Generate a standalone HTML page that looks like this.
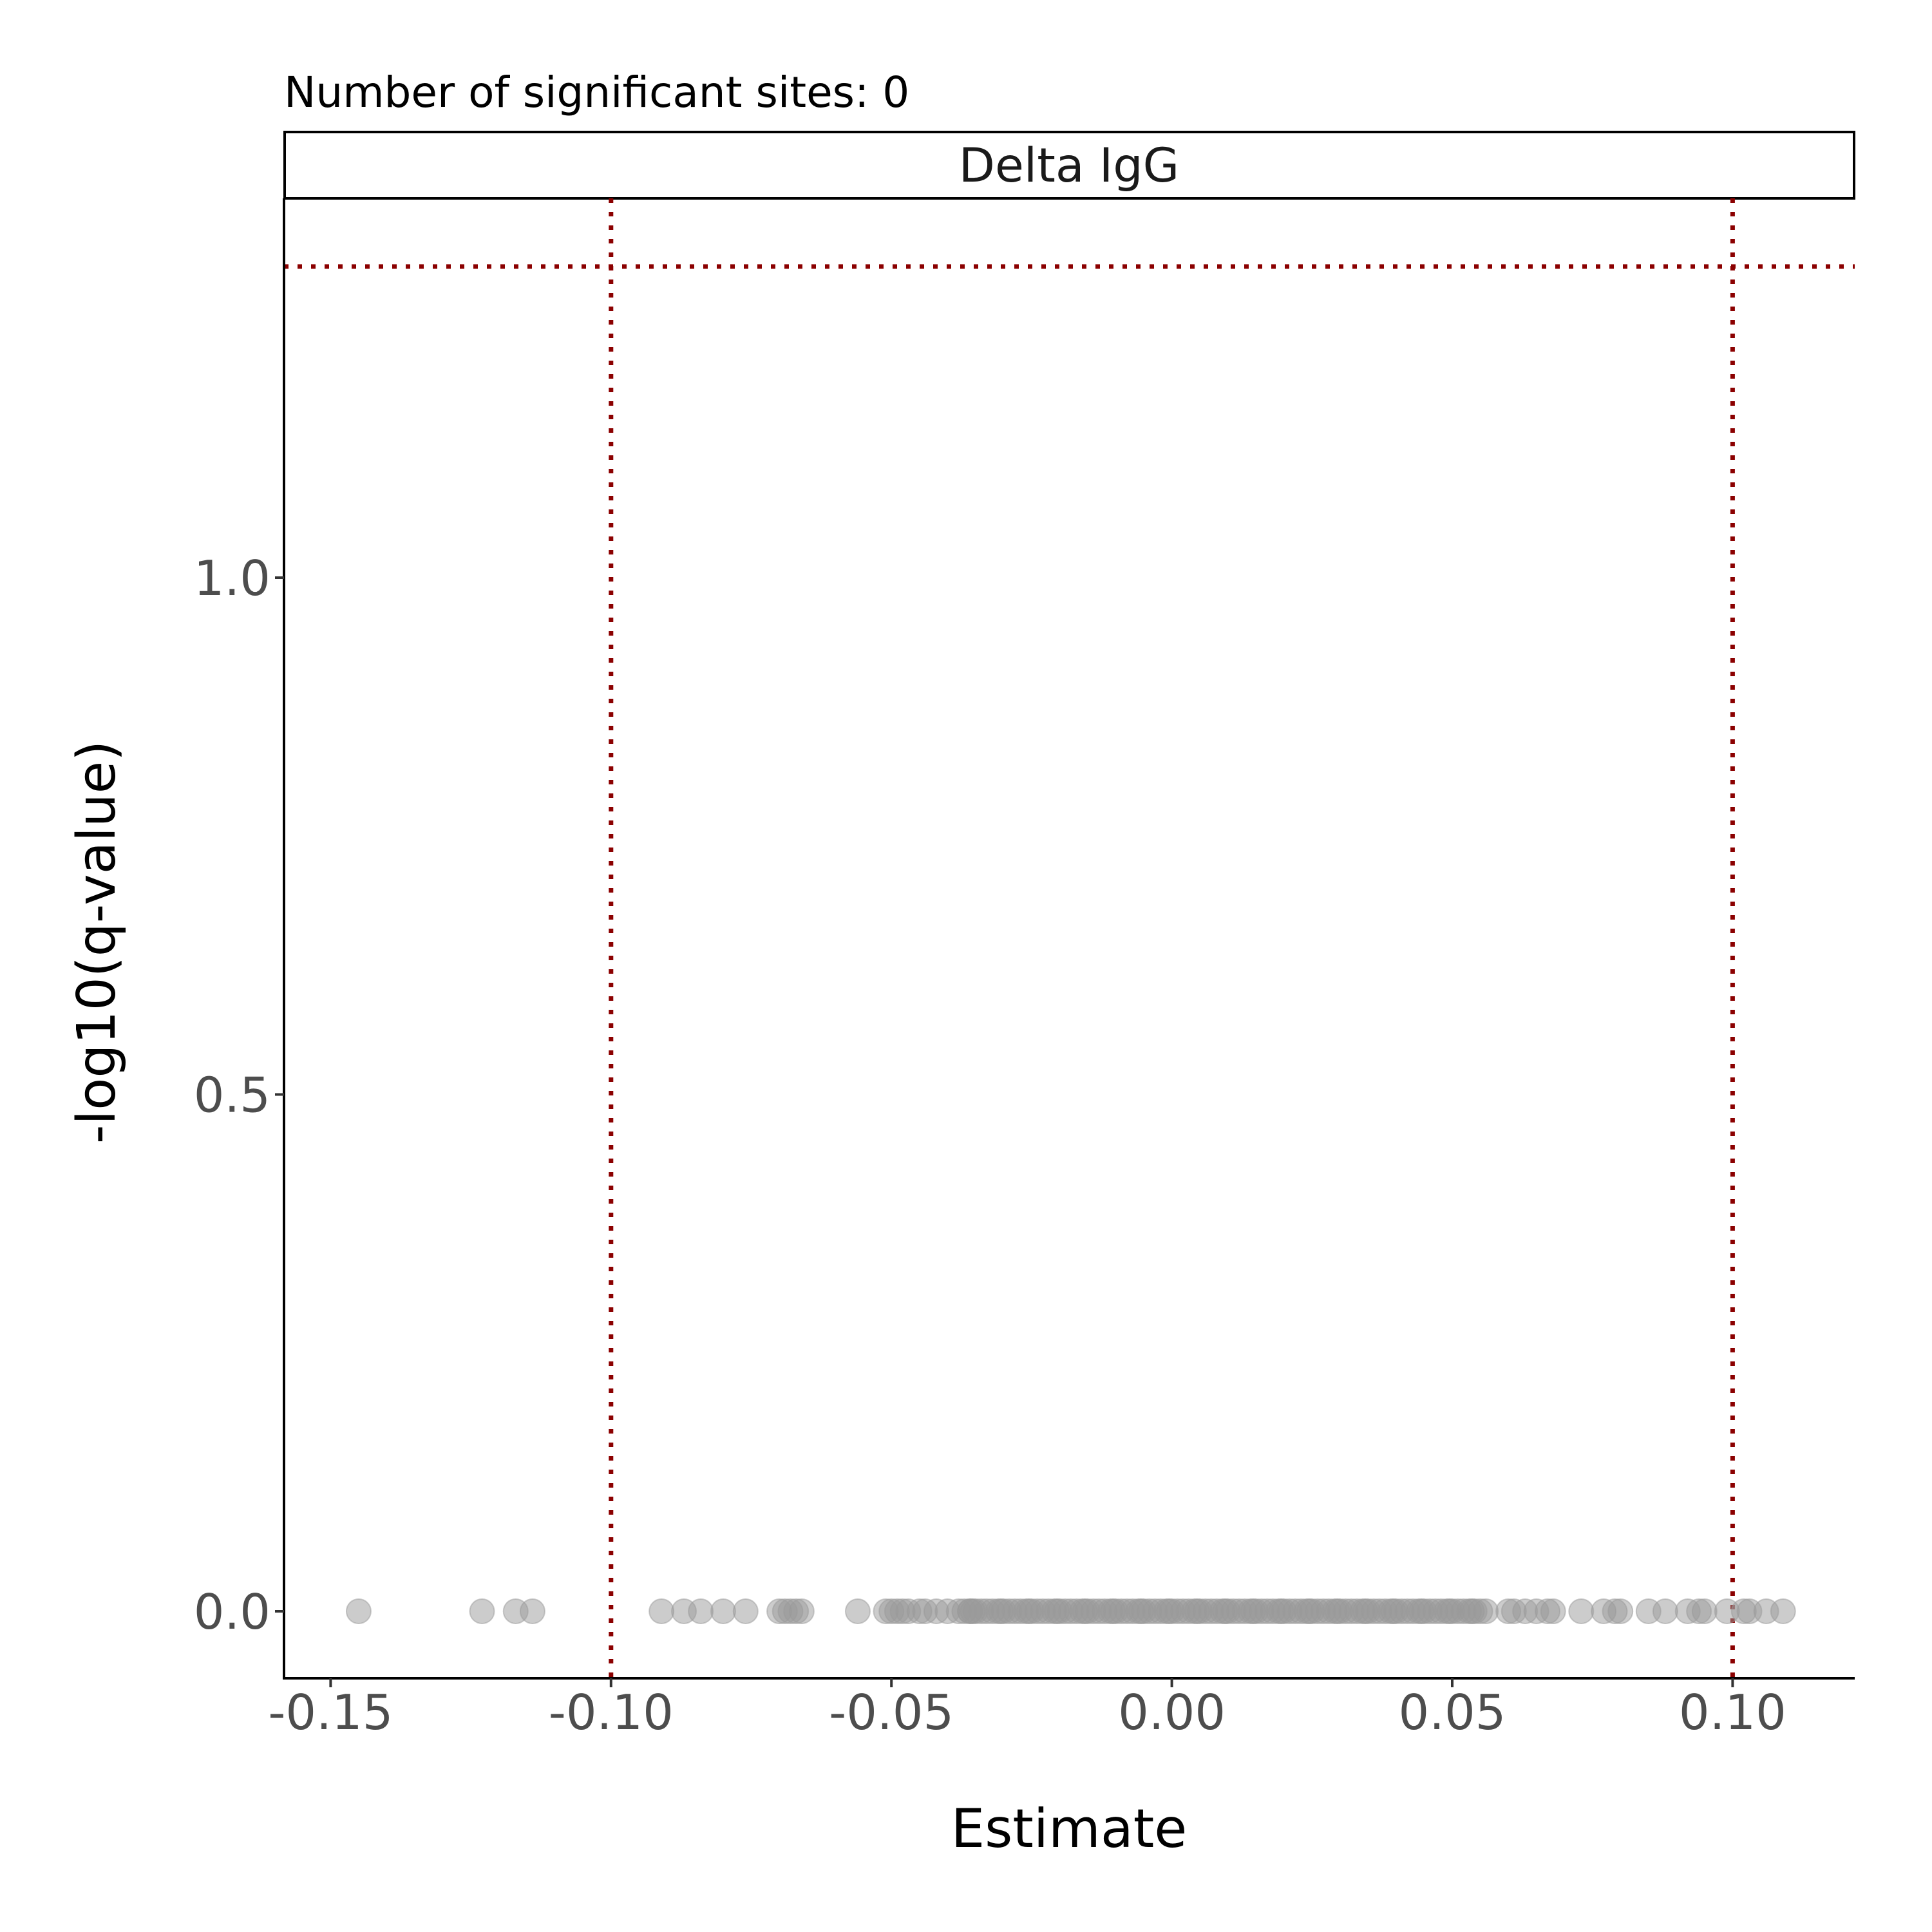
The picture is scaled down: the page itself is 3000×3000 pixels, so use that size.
<!DOCTYPE html>
<html><head><meta charset="utf-8"><style>
html,body{margin:0;padding:0;background:#fff;}
svg{display:block;font-family:"DejaVu Sans","Liberation Sans",sans-serif;}
</style></head><body>
<svg id="chart" width="3000" height="3000" viewBox="0 0 3000 3000" xmlns="http://www.w3.org/2000/svg">
<rect width="3000" height="3000" fill="#fff"/>
<text x="441" y="166" font-size="66" fill="#000">Number of significant sites: 0</text>
<rect x="442" y="205" width="2437" height="103" fill="#fff" stroke="#000" stroke-width="4"/>
<text x="1660" y="282" font-size="73" text-anchor="middle" fill="#1a1a1a">Delta IgG</text>
<g id="thresholds"></g>
<g id="points"></g>
<line x1="441" y1="308" x2="441" y2="2607" stroke="#000" stroke-width="4"/>
<line x1="439" y1="2606" x2="2880" y2="2606" stroke="#000" stroke-width="4"/>
<g id="xticks"></g>
<g id="yticks"></g>
<text x="1660" y="2868" font-size="83" text-anchor="middle" fill="#000">Estimate</text>
<text transform="translate(178,1463) rotate(-90)" font-size="82" text-anchor="middle" fill="#000">-log10(q-value)</text>
</svg>
<script>
const estimates = [-0.145,-0.123,-0.117,-0.114,-0.091,-0.087,-0.084,-0.080,-0.076,-0.070,-0.069,-0.068,-0.067,-0.066,-0.056,
-0.051,-0.050,-0.049,-0.048,-0.047,-0.045,-0.044,-0.042,-0.040,-0.038,-0.037,-0.036,-0.035,-0.033,-0.031,-0.030,-0.028,-0.027,-0.025,-0.024,-0.022,-0.020,-0.019,-0.017,-0.015,-0.014,-0.012,-0.010,-0.009,-0.007,-0.005,-0.004,-0.002,0.000,0.001,0.003,0.005,0.006,0.008,0.010,0.011,0.013,0.015,0.016,0.018,0.020,0.021,0.023,0.025,0.026,0.028,0.030,0.031,0.033,0.035,0.036,0.038,0.040,0.041,0.043,0.045,0.046,0.048,0.050,0.051,0.053,0.054,0.055,0.056,
-0.036,-0.034,-0.032,-0.029,-0.026,-0.023,-0.021,-0.018,-0.016,-0.013,-0.011,-0.008,-0.006,-0.003,-0.001,0.002,0.004,0.007,0.009,0.012,0.014,0.017,0.019,0.022,0.024,0.027,0.029,0.032,0.034,0.037,0.039,0.042,0.044,0.047,0.049,0.052,
-0.0355,-0.0305,-0.0255,-0.0205,-0.0155,-0.0105,-0.0055,-0.0005,0.0045,0.0095,0.0145,0.0195,0.0245,0.0295,0.0345,0.0395,0.0445,0.0495,0.0535,
0.060,0.061,0.063,0.065,0.067,0.068,0.073,0.077,0.079,0.080,0.085,0.088,0.092,0.094,0.095,0.099,0.102,0.103,0.106,0.109];
const qvals = estimates.map(() => 0);
const xTickValues = [-0.15,-0.10,-0.05,0.00,0.05,0.10];
const xTickLabels = ["-0.15","-0.10","-0.05","0.00","0.05","0.10"];
const yTickValues = [0,0.5,1.0];
const yTickLabels = ["0.0","0.5","1.0"];
const vThresholds = [-0.1,0.1];
const hThreshold = [1.30103];

const NS="http://www.w3.org/2000/svg";
const xs = v => 1819.6 + v*(435.4/0.05);
const ys = v => 2502 - v*1605;
function mk(tag, attrs, parent){const e=document.createElementNS(NS,tag);for(const k in attrs)e.setAttribute(k,attrs[k]);parent.appendChild(e);return e;}

const th=document.getElementById('thresholds');
vThresholds.forEach(v=>{
  const l=mk('line',{x1:xs(v),x2:xs(v),y1:308,y2:2606,stroke:'#8B0000','stroke-width':7,'stroke-dasharray':'7 14'},th);
  
  
});
hThreshold.forEach(v=>{
  const l=mk('line',{x1:441,x2:2880,y1:ys(v),y2:ys(v),stroke:'#8B0000','stroke-width':7,'stroke-dasharray':'7 14'},th);
  
  
});

const pg=document.getElementById('points');
estimates.forEach((v,i)=>{
  const c=mk('circle',{cx:xs(v),cy:ys(qvals[i]),r:19,fill:'#999999','fill-opacity':0.5,stroke:'#999999','stroke-opacity':0.5,'stroke-width':2},pg);
  
  
});

const xt=document.getElementById('xticks');
xTickValues.forEach((v,i)=>{
  const l=mk('line',{x1:xs(v),x2:xs(v),y1:2606,y2:2620,stroke:'#333','stroke-width':4},xt);
  
  
  const t=mk('text',{x:xs(v),y:2685,'font-size':75,'text-anchor':'middle',fill:'#4d4d4d'},xt);
  t.textContent=xTickLabels[i];
  
  
});
const yt=document.getElementById('yticks');
yTickValues.forEach((v,i)=>{
  const l=mk('line',{x1:427,x2:441,y1:ys(v),y2:ys(v),stroke:'#333','stroke-width':4},yt);
  
  
  const t=mk('text',{x:420,y:ys(v)+27,'font-size':75,'text-anchor':'end',fill:'#4d4d4d'},yt);
  t.textContent=yTickLabels[i];
  
  
});
</script>
</body></html>
